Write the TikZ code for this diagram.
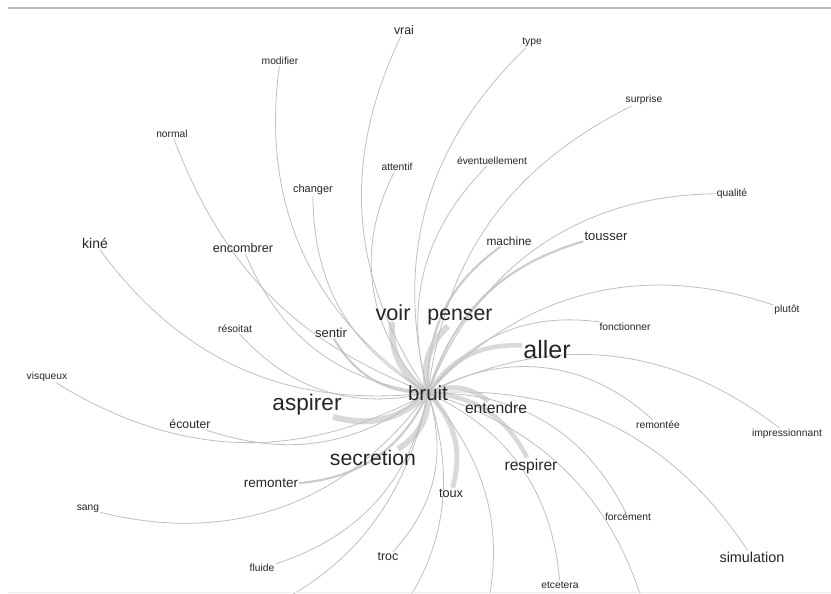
\documentclass[tikz,border=0pt]{standalone}
\usepackage{fontspec}
\setmainfont{Liberation Sans}
\usetikzlibrary{backgrounds}

\begin{document}
\begin{tikzpicture}[
    x=1pt, y=-1pt,
    % === STYLES ===
    word/.style={
        inner sep=1pt,
        text=black!85,
        font=\fontsize{#1}{#1}\selectfont
    },
    word/.default=10.3,
    thinlink/.style={
        draw=gray!50,
        line width=0.8pt
    },
    midlink/.style={
        draw=gray!40,
        line width=2.2pt
    },
    fatlink/.style={
        draw=gray!30,
        line width=#1
    },
    fatlink/.default=5pt,
    rule/.style={
        draw=gray!55,
        line width=1.8pt
    }
]

\useasboundingbox (0,0) rectangle (831,594);
\clip (0,0) rectangle (831,594);

% === FRAME ===
\draw[rule] (8,8) -- (831,8);
\draw[draw=gray!15, line width=1pt] (8,592) -- (831,592);

% === HUB ===
\node[word=20.5] (bruit) at (428,393) {bruit};

% === BIG WORDS ===
\node[word=25]   (aller)     at (547,350) {aller};
\node[word=21.7] (voir)      at (393,313) {voir};
\node[word=21.3] (penser)    at (460,317) {penser};
\node[word=22.6] (aspirer)   at (307,405) {aspirer};
\node[word=21.2] (secretion) at (373,458) {secretion};

% === MEDIUM WORDS ===
\node[word=15.7] (entendre)   at (496,408) {entendre};
\node[word=15.6] (respirer)   at (531,466) {respirer};
\node[word=13.5] (remonter)   at (271,483) {remonter};
\node[word=14.4] (simulation) at (752,557) {simulation};
\node[word=14]   (kine)       at (95,243)  {kiné};
\node[word=13.1] (tousser)    at (606,236) {tousser};
\node[word=13]   (sentir)     at (331,333) {sentir};
\node[word=12.6] (encombrer)  at (243,248) {encombrer};
\node[word=12.3] (ecouter)    at (190,424) {écouter};
\node[word=12.7] (toux)       at (451,493) {toux};
\node[word=12.4] (troc)       at (388,557) {troc};
\node[word=12.4] (vrai)       at (404,30)  {vrai};
\node[word=11.9] (machine)    at (509,241) {machine};
\node[word=11]   (changer)    at (313,190) {changer};

% === SMALL WORDS ===
\node[word] (modifier)  at (280,61)  {modifier};
\node[word] (normal)    at (172,134) {normal};
\node[word] (attentif)  at (397,167) {attentif};
\node[word] (eventuel)  at (492,161) {éventuellement};
\node[word] (type)      at (532,42)  {type};
\node[word] (surprise)  at (644,100) {surprise};
\node[word] (qualite)   at (732,194) {qualité};
\node[word] (resoitat)  at (235,329) {résoitat};
\node[word] (plutot)    at (787,310) {plutôt};
\node[word] (fonction)  at (625,327) {fonctionner};
\node[word] (visqueux)  at (47,377)  {visqueux};
\node[word] (remontee)  at (658,425) {remontée};
\node[word] (impress)   at (787,434) {impressionnant};
\node[word] (sang)      at (88,509)  {sang};
\node[word] (forcement) at (628,517) {forcément};
\node[word] (fluide)    at (262,568) {fluide};
\node[word] (etcetera)  at (560,585) {etcetera};

% ends of links cut by the frame
\coordinate (cutA) at (225,625);
\coordinate (cutB) at (378,640);
\coordinate (cutC) at (478,640);
\coordinate (cutD) at (650,630);

% === LINKS ===
\begin{scope}[on background layer]
    % heavy links
    \draw[fatlink=6pt] (bruit.center) to[bend left=30] (voir);
    \draw[fatlink=6pt] (bruit.center) to[bend left=30] (penser);
    \draw[fatlink=6pt] (bruit.center) to[bend left=30] (aspirer);
    \draw[fatlink=6pt] (bruit.center) to[bend left=30] (secretion);
    \draw[fatlink=4.5pt] (bruit.center) to[bend left=30] (aller);
    \draw[fatlink=5pt] (bruit.center) to[bend left=30] (entendre);
    \draw[fatlink=4.5pt] (bruit.center) to[bend left=30] (respirer);
    \draw[fatlink=5pt] (bruit.center) to[bend left=30] (toux);

    % medium links
    \draw[midlink] (bruit.center) to[bend left=30] (sentir);
    \draw[midlink] (bruit.center) to[bend left=30] (remonter);
    \draw[midlink] (bruit.center) to[bend left=28] (machine);
    \draw[midlink] (bruit.center) to[bend left=28] (tousser);

    % light links
    \draw[thinlink] (bruit.center) to[bend left=30] (vrai);
    \draw[thinlink] (bruit.center) to[bend left=30] (type);
    \draw[thinlink] (bruit.center) to[bend left=32] (modifier);
    \draw[thinlink] (bruit.center) to[bend left=24] (normal);
    \draw[thinlink] (bruit.center) to[bend left=36] (attentif);
    \draw[thinlink] (bruit.center) to[bend left=30] (eventuel);
    \draw[thinlink] (bruit.center) to[bend left=28] (surprise);
    \draw[thinlink] (bruit.center) to[bend left=34] (qualite);
    \draw[thinlink] (bruit.center) to[bend left=30] (changer);
    \draw[thinlink] (bruit.center) to[bend left=30] (encombrer);
    \draw[thinlink] (bruit.center) to[bend left=30] (kine);
    \draw[thinlink] (bruit.center) to[bend left=30] (resoitat);
    \draw[thinlink] (bruit.center) to[bend left=30] (visqueux);
    \draw[thinlink] (bruit.center) to[bend left=28] (ecouter);
    \draw[thinlink] (bruit.center) to[bend left=34] (sang);
    \draw[thinlink] (bruit.center) to[bend left=30] (fluide);
    \draw[thinlink] (bruit.center) to[bend left=30] (troc);
    \draw[thinlink] (bruit.center) to[bend left=30] (etcetera);
    \draw[thinlink] (bruit.center) to[bend left=32] (forcement);
    \draw[thinlink] (bruit.center) to[bend left=30] (simulation);
    \draw[thinlink] (bruit.center) to[bend left=36] (remontee);
    \draw[thinlink] (bruit.center) to[bend left=32] (impress);
    \draw[thinlink] (bruit.center) to[bend left=30] (fonction);
    \draw[thinlink] (bruit.center) to[bend left=33] (plutot);
    \draw[thinlink] (bruit.center) to[bend left=30] (cutA);
    \draw[thinlink] (bruit.center) to[bend left=30] (cutB);
    \draw[thinlink] (bruit.center) to[bend left=30] (cutC);
    \draw[thinlink] (bruit.center) to[bend left=30] (cutD);
\end{scope}

\end{tikzpicture}
\end{document}
